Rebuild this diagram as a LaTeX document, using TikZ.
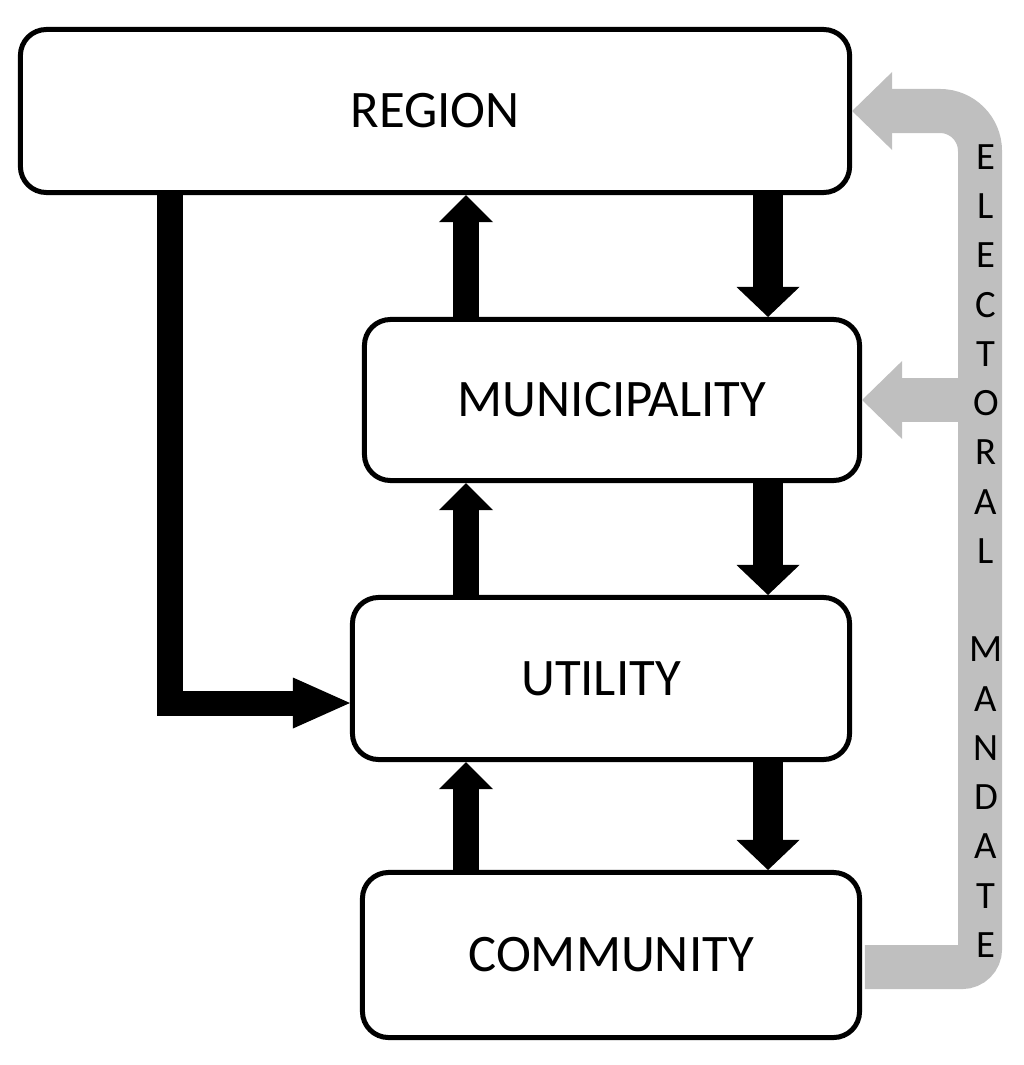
\documentclass[tikz,border=0pt]{standalone}
\usepackage{fontspec}
\setmainfont{Carlito}
\usetikzlibrary{arrows.meta, positioning}
\definecolor{mandategray}{RGB}{191,191,191}

\begin{document}
\begin{tikzpicture}[
    x=0.025cm, y=-0.025cm,
    level_box/.style={draw, line width=0.125cm, rounded corners=0.65cm, inner sep=0pt,
        minimum height=4.05cm, font=\fontsize{37.5}{45}\selectfont},
    up_arrow/.style={line width=0.65cm, -{Triangle[length=0.675cm, width=1.35cm, line width=0pt]}},
    down_arrow/.style={line width=0.75cm, -{Triangle[length=0.75cm, width=1.575cm, line width=0pt]}},
    side_arrow/.style={line width=0.625cm, -{Triangle[length=1.425cm, width=1.275cm, line width=0pt]}},
    mandate_arrow/.style={mandategray, line width=1.1cm, -{Triangle[length=1.0cm, width=1.95cm, line width=0pt]}},
    mandate_letter/.style={inner sep=0pt, font=\fontsize{27.5}{30}\selectfont}
  ]
    \useasboundingbox (0,0) rectangle (1024,1065);

    % Levels
    \node[level_box, minimum width=20.725cm, minimum height=4.075cm] (region) at (435,111) {REGION};
    \node[level_box, minimum width=12.375cm, minimum height=4.025cm] (muni) at (612,400) {MUNICIPALITY};
    \node[level_box, minimum width=12.425cm] (util) at (601,678.5) {UTILITY};
    \node[level_box, minimum width=12.425cm, minimum height=4.125cm] (comm) at (611,955) {COMMUNITY};

    % Columns of the arrows
    \coordinate (up_col) at (466,0);
    \coordinate (down_col) at (768,0);
    \coordinate (side_col) at (170,0);
    \coordinate (side_row) at (0,703);
    \coordinate (mandate_col) at (980,0);

    % Upwards
    \draw[up_arrow] (muni.north -| up_col) -- (region.south -| up_col);
    \draw[up_arrow] (util.north -| up_col) -- (muni.south -| up_col);
    \draw[up_arrow] (comm.north -| up_col) -- (util.south -| up_col);

    % Downwards
    \draw[down_arrow] (region.south -| down_col) -- (muni.north -| down_col);
    \draw[down_arrow] (muni.south -| down_col) -- (util.north -| down_col);
    \draw[down_arrow] (util.south -| down_col) -- (comm.north -| down_col);

    % Region to utility
    \draw[side_arrow] (region.south -| side_col) |- (side_row -| util.west);

    % Electoral mandate
    \draw[mandate_arrow, shorten <=0.07cm] ([yshift=-0.3cm]comm.east)
        [rounded corners=0.45cm] -- ([yshift=-0.3cm]comm.east -| mandate_col)
        [rounded corners=1cm] -- (mandate_col |- region.east) -- (region.east);
    \draw[mandate_arrow] (mandate_col |- muni.east) -- (muni.east);
    \foreach \ch [count=\i] in {E,L,E,C,T,O,R,A,L,,M,A,N,D,A,T,E}
        \node[mandate_letter] (letter\i) at (986,{157+49.25*(\i-1)}) {\ch};
\end{tikzpicture}
\end{document}
